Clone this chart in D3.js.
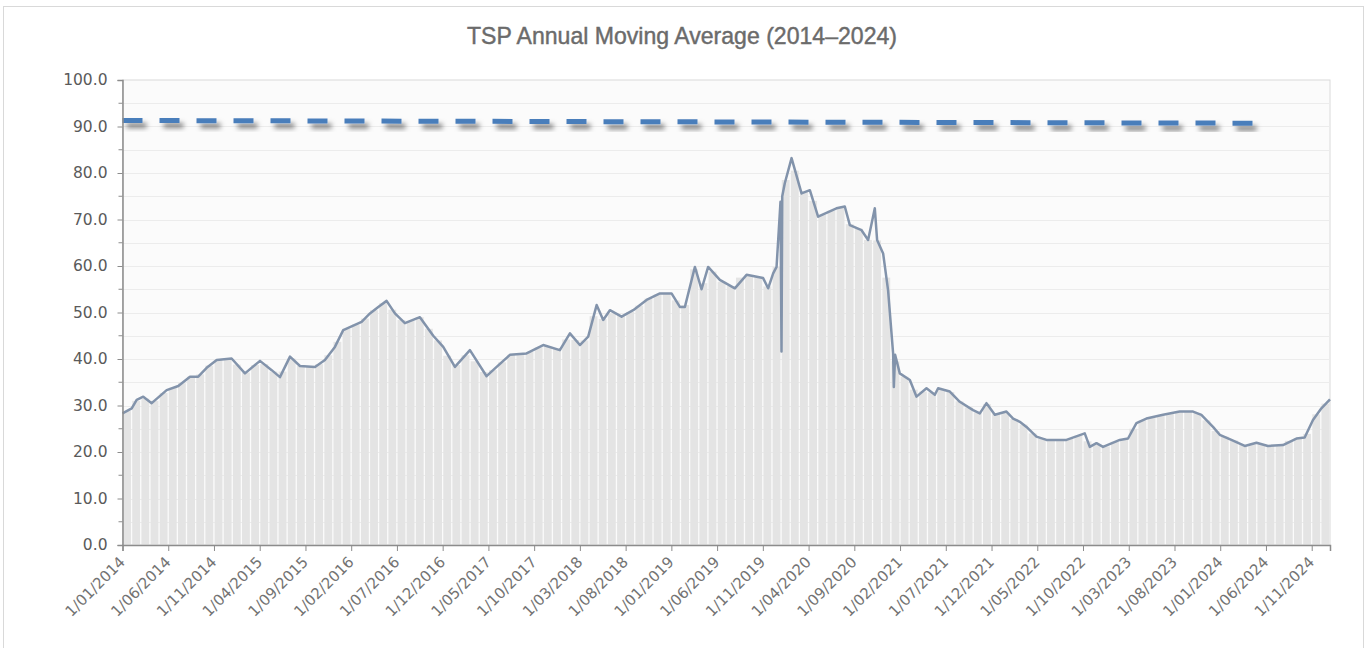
<!DOCTYPE html>
<html>
<head>
<meta charset="utf-8">
<script src="https://cdn.jsdelivr.net/npm/d3@7"></script>
<style>
  body { margin: 0; background: #fff; }
  svg { display: block; }
</style>
</head>
<body>
<svg id="chart" width="1369" height="648"></svg>
<script>

// column heights, one per month Jan 2014 .. Dec 2024
var monthlyColumns = [
  28.8, 31.0, 31.5, 31.0, 32.7, 33.8, 34.8, 36.2, 36.7, 38.6, 39.8, 40.0,
  38.8, 37.1, 38.7, 38.9, 37.3, 37.3, 40.1, 38.5, 38.4, 38.9, 40.8, 43.7,
  46.5, 47.4, 48.7, 50.5, 52.0, 50.6, 48.4, 48.2, 49.0, 46.5, 44.0, 40.7,
  38.7, 40.8, 39.5, 37.2, 37.6, 39.3, 40.9, 41.1, 41.5, 42.5, 42.7, 42.2,
  44.2, 44.1, 44.0, 49.2, 48.6, 49.8, 49.4, 50.1, 51.5, 53.0, 53.9, 54.1,
  52.6, 51.6, 59.3, 56.3, 58.8, 56.6, 55.7, 57.5, 58.0, 57.6, 55.6, 59.8,
  78.5, 80.5, 76.0, 74.0, 71.0, 71.9, 72.6, 69.0, 68.0, 65.6, 65.5, 57.5,
  39.5, 36.2, 33.4, 33.0, 32.8, 33.5, 32.9, 30.9, 29.6, 28.5, 30.3, 28.2,
  28.4, 27.1, 25.9, 24.0, 22.9, 22.6, 22.6, 22.8, 23.5, 22.3, 21.5, 21.2,
  22.2, 22.8, 25.0, 26.8, 27.4, 27.9, 28.3, 28.7, 28.7, 28.4, 26.8, 24.5,
  23.3, 22.5, 21.5, 21.7, 21.7, 21.3, 21.5, 22.4, 23.0, 23.9, 28.1, 30.4
];

// the moving-average line, point by point
var lineMonths = [
  0, 1.01, 1.55, 2.27, 3.19, 4.83, 6.10, 7.38, 8.28, 9.20, 10.30, 11.93,
  13.39, 15.03, 16.31, 17.21, 18.31, 19.40, 21.04, 22.13, 23.22, 24.13, 26.14, 27.05,
  27.96, 28.87, 29.78, 30.87, 32.51, 33.97, 35.06, 36.34, 37.98, 39.80, 40.90, 42.35,
  44.17, 45.99, 47.81, 48.91, 50.00, 50.91, 51.83, 52.55, 53.28, 54.56, 55.83, 57.29,
  58.75, 60.02, 60.93, 61.48, 62.57, 63.30, 64.02, 65.30, 66.94, 68.22, 70.03, 70.58,
  71.13, 71.50, 71.93, 72.04, 72.12, 72.40, 73.14, 74.23, 75.14, 76.04, 78.05, 78.96,
  79.51, 80.79, 81.51, 82.24, 82.49, 83.15, 83.69, 84.24, 84.32, 84.46, 84.97, 86.07,
  86.80, 87.89, 88.80, 89.16, 90.44, 91.53, 92.98, 93.72, 94.45, 95.36, 96.63, 97.36,
  98.09, 98.82, 99.91, 101.00, 103.19, 105.19, 105.74, 106.47, 107.19, 109.02, 109.92, 110.84,
  111.93, 113.75, 115.57, 117.03, 117.94, 119.21, 119.95, 121.22, 122.68, 123.96, 125.22, 126.86,
  128.33, 129.23, 130.14, 131.06, 132
];
var lineValues = [
  28.3, 29.4, 31.2, 31.9, 30.5, 33.3, 34.2, 36.2, 36.2, 38.1, 39.8, 40.1,
  36.9, 39.6, 37.6, 36.1, 40.5, 38.5, 38.3, 39.8, 42.6, 46.2, 48.0, 49.8,
  51.2, 52.5, 49.8, 47.7, 49.0, 45.0, 42.6, 38.3, 41.9, 36.3, 38.3, 40.9,
  41.2, 43.0, 41.9, 45.5, 43.0, 44.8, 51.6, 48.4, 50.5, 49.1, 50.5, 52.7,
  54.1, 54.1, 51.2, 51.2, 59.8, 55.0, 59.8, 57.0, 55.2, 58.1, 57.4, 55.2,
  58.4, 59.8, 73.8, 41.6, 75.0, 77.8, 83.2, 75.6, 76.3, 70.6, 72.4, 72.8,
  68.8, 67.7, 65.6, 72.4, 65.6, 62.7, 54.8, 41.2, 34.0, 40.9, 36.9, 35.5,
  31.9, 33.7, 32.3, 33.7, 33.0, 30.8, 29.0, 28.3, 30.5, 28.0, 28.7, 27.2,
  26.5, 25.4, 23.3, 22.6, 22.6, 24.0, 21.1, 21.9, 21.1, 22.6, 22.9, 26.2,
  27.2, 28.0, 28.7, 28.7, 28.0, 25.4, 23.7, 22.6, 21.3, 22.0, 21.3, 21.5,
  22.9, 23.1, 26.9, 29.4, 31.3
];

// dashed trend line
var trendMonths = [0, 125.2];
var trendValues = [91.3, 90.7];

var yTicks = [0, 10, 20, 30, 40, 50, 60, 70, 80, 90, 100];
var xTickLabels = [
  "1/01/2014", "1/06/2014", "1/11/2014", "1/04/2015", "1/09/2015", "1/02/2016",
  "1/07/2016", "1/12/2016", "1/05/2017", "1/10/2017", "1/03/2018", "1/08/2018",
  "1/01/2019", "1/06/2019", "1/11/2019", "1/04/2020", "1/09/2020", "1/02/2021",
  "1/07/2021", "1/12/2021", "1/05/2022", "1/10/2022", "1/03/2023", "1/08/2023",
  "1/01/2024", "1/06/2024", "1/11/2024"
];
var titleText = "TSP Annual Moving Average (2014\u20132024)";

var svg = d3.select("#chart"),
    margin = {top: 80, right: 39, bottom: 103, left: 122.5},
    width = +svg.attr("width") - margin.left - margin.right,
    height = +svg.attr("height") - margin.top - margin.bottom;

// "1/MM/YYYY" -> months since Jan 2014
function tickMonth(label) {
  var p = label.split("/");
  return (+p[2] - 2014) * 12 + (+p[1] - 1);
}

var x = d3.scaleLinear().domain([0, monthlyColumns.length]).range([0, width]);
var y = d3.scaleLinear().domain([0, 100]).range([height, 0]);

var defs = svg.append("defs");
var shadow = defs.append("filter").attr("id", "shadow")
    .attr("x", "-5%").attr("y", "-300%").attr("width", "110%").attr("height", "700%");
shadow.append("feDropShadow")
    .attr("dx", 4).attr("dy", 5).attr("stdDeviation", 2.4)
    .attr("flood-color", "#000").attr("flood-opacity", 0.5);

// outer frame
svg.append("rect")
    .attr("x", 3.5).attr("y", 6.5)
    .attr("width", 1360).attr("height", 660)
    .attr("fill", "#fff").attr("stroke", "#d9d9d9");

// title, squeezed to look like a narrow font
svg.append("text")
    .attr("x", 682).attr("y", 44)
    .attr("text-anchor", "middle")
    .attr("textLength", 430)
    .attr("lengthAdjust", "spacingAndGlyphs")
    .style("font-family", "'Liberation Sans', Arial, sans-serif")
    .style("font-size", "24.5px")
    .attr("fill", "#6b6b6b")
    .attr("stroke", "#6b6b6b")
    .attr("stroke-width", 0.45)
    .text(titleText);

var g = svg.append("g")
    .attr("transform", "translate(" + margin.left + "," + margin.top + ")");

// plot background + light grid every 5
g.append("rect")
    .attr("width", width).attr("height", height)
    .attr("fill", "#fbfbfb").attr("stroke", "#dadada");

g.append("g")
  .selectAll("line")
  .data(d3.range(5, 100, 5))
  .enter().append("line")
    .attr("x1", 0).attr("x2", width)
    .attr("y1", function(d) { return Math.round(y(d)) + 0.5; })
    .attr("y2", function(d) { return Math.round(y(d)) + 0.5; })
    .attr("stroke", "#ececec");

// monthly columns
g.selectAll(".bar")
    .data(monthlyColumns)
  .enter().append("rect")
    .attr("class", "bar")
    .attr("x", function(d, i) { return x(i) + 0.6; })
    .attr("width", function(d, i) { return x(i + 1) - x(i) - 1.3; })
    .attr("y", function(d) { return y(d); })
    .attr("height", function(d) { return height - y(d); })
    .attr("fill", "#e4e4e4");

var line = d3.line()
    .x(function(d) { return x(d[0]); })
    .y(function(d) { return y(d[1]); });

g.append("path")
    .datum(d3.zip(lineMonths, lineValues))
    .attr("d", line)
    .attr("fill", "none")
    .attr("stroke", "#8293ab")
    .attr("stroke-width", 2.5)
    .attr("stroke-linejoin", "round");

// trend line with its shadow
g.append("path")
    .datum(d3.zip(trendMonths, trendValues))
    .attr("d", line)
    .attr("fill", "none")
    .attr("stroke", "#4a7ebb")
    .attr("stroke-width", 5)
    .attr("stroke-dasharray", "20,17")
    .attr("filter", "url(#shadow)");

// y axis
var yAxis = g.append("g")
    .call(d3.axisLeft(y).tickValues(yTicks).tickFormat(d3.format(".1f"))
      .tickSizeOuter(0).tickSize(5).tickPadding(10));
yAxis.select(".domain").attr("stroke", "#8c8c8c").attr("stroke-width", 1.5);
yAxis.selectAll(".tick line").attr("stroke", "#8c8c8c");
yAxis.selectAll("text")
    .attr("fill", "#5a5a5a")
    .style("font-family", "'DejaVu Sans', sans-serif")
    .style("font-size", "15.5px");
yAxis.selectAll(".minor")
    .data(d3.range(5, 100, 10))
  .enter().append("line")
    .attr("class", "minor")
    .attr("x1", -4).attr("x2", 0)
    .attr("y1", function(d) { return y(d); })
    .attr("y2", function(d) { return y(d); })
    .attr("stroke", "#8c8c8c");

// x axis
var xAxis = g.append("g")
    .attr("transform", "translate(0," + height + ")")
    .call(d3.axisBottom(x)
      .tickValues(xTickLabels.map(tickMonth))
      .tickFormat(function(d, i) { return xTickLabels[i]; })
      .tickSizeOuter(0).tickSize(6));
xAxis.select(".domain").attr("stroke", "#8c8c8c").attr("stroke-width", 1.5);
xAxis.selectAll(".tick line").attr("stroke", "#8c8c8c");
xAxis.selectAll("text")
    .attr("fill", "#737373")
    .style("font-family", "'DejaVu Sans', sans-serif")
    .style("font-size", "15px")
    .style("text-anchor", "end")
    .attr("x", 0).attr("y", 0).attr("dy", null)
    .attr("transform", "translate(3,18) rotate(-45)");
</script>
</body>
</html>
